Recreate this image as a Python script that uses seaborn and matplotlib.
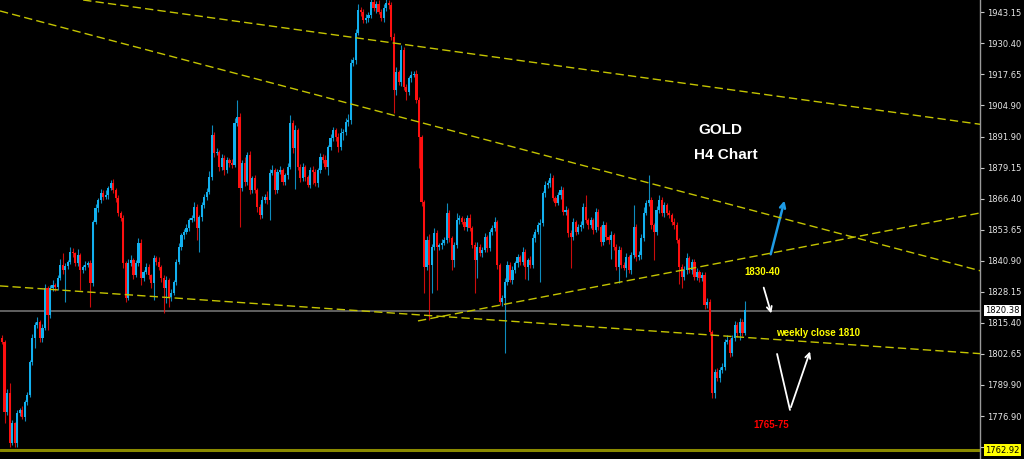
import matplotlib
matplotlib.use('Agg')
import matplotlib.pyplot as plt
import seaborn as sns
import numpy as np
import pandas as pd

# H4 closes (open of each bar = previous close)
first_open = 1809.1
closes = [
    1807.4, 1778.6, 1786.5, 1765.9, 1774.1, 1765.9, 1778.2, 1779.5, 1776.6, 1782.8,
    1785.6, 1799.2, 1809.1, 1814.4, 1815.7, 1809.1, 1813.2, 1829.6, 1818.5, 1829.6,
    1830.9, 1830.1, 1833.8, 1839.1, 1837.0, 1838.7, 1840.3, 1844.5, 1844.0, 1839.9,
    1843.2, 1837.0, 1838.3, 1839.1, 1839.9, 1831.7, 1856.8, 1862.5, 1865.8, 1868.7,
    1867.1, 1867.9, 1870.8, 1872.8, 1870.0, 1866.7, 1860.5, 1858.4, 1839.9, 1825.5,
    1839.9, 1841.2, 1835.0, 1839.9, 1848.2, 1833.8, 1836.2, 1838.3, 1835.0, 1831.7,
    1842.0, 1840.3, 1838.3, 1833.8, 1829.6, 1832.9, 1825.9, 1827.6, 1832.1, 1840.3,
    1846.5, 1851.4, 1852.7, 1854.3, 1857.6, 1858.4, 1863.0, 1854.3, 1858.8, 1863.8,
    1867.1, 1869.1, 1875.3, 1892.6, 1885.2, 1885.6, 1879.4, 1883.1, 1878.2, 1882.3,
    1881.1, 1880.2, 1897.5, 1900.0, 1870.8, 1881.1, 1873.2, 1884.4, 1870.0, 1874.9,
    1870.0, 1863.0, 1859.7, 1865.8, 1867.1, 1865.8, 1877.0, 1878.2, 1870.0, 1877.4,
    1878.2, 1873.2, 1876.1, 1879.4, 1897.5, 1887.2, 1894.6, 1879.4, 1874.9, 1879.4,
    1875.3, 1872.0, 1878.2, 1877.4, 1872.8, 1878.2, 1883.5, 1882.3, 1879.4, 1887.6,
    1891.3, 1894.6, 1891.8, 1887.6, 1893.4, 1893.8, 1897.9, 1898.7, 1922.2, 1923.4,
    1934.5, 1944.0, 1943.2, 1939.9, 1940.7, 1941.9, 1947.3, 1944.8, 1946.5, 1943.2,
    1940.7, 1944.8, 1946.9, 1946.0, 1932.9, 1911.1, 1918.5, 1914.4, 1927.5, 1912.3,
    1910.3, 1916.0, 1917.3, 1917.7, 1907.0, 1891.8, 1865.0, 1838.3, 1849.4, 1839.1,
    1846.5, 1852.3, 1846.5, 1847.3, 1848.2, 1849.4, 1860.5, 1850.2, 1841.2, 1847.3,
    1857.6, 1858.4, 1856.8, 1854.7, 1858.4, 1854.3, 1847.3, 1841.2, 1846.5, 1844.0,
    1845.3, 1850.6, 1846.1, 1852.7, 1854.3, 1856.8, 1839.1, 1823.9, 1825.5, 1832.1,
    1839.1, 1832.9, 1837.0, 1839.9, 1842.4, 1840.3, 1844.5, 1838.3, 1841.2, 1839.1,
    1850.2, 1852.7, 1855.6, 1856.4, 1868.7, 1872.0, 1872.8, 1874.9, 1866.7, 1864.6,
    1867.9, 1870.0, 1860.9, 1861.7, 1852.3, 1850.6, 1856.8, 1852.7, 1854.7, 1855.6,
    1863.0, 1857.6, 1855.6, 1857.6, 1853.5, 1860.9, 1854.7, 1848.6, 1855.6, 1850.6,
    1849.4, 1851.4, 1846.5, 1838.3, 1845.3, 1839.1, 1837.9, 1842.4, 1837.0, 1843.2,
    1854.7, 1842.4, 1843.2, 1850.2, 1860.5, 1864.6, 1865.8, 1855.6, 1852.7, 1861.7,
    1865.8, 1860.5, 1863.8, 1860.5, 1859.7, 1856.8, 1855.6, 1849.4, 1838.3, 1834.2,
    1837.0, 1842.0, 1837.0, 1840.3, 1834.2, 1836.2, 1833.8, 1835.0, 1822.7, 1823.9,
    1811.5, 1786.5, 1795.1, 1792.6, 1795.9, 1797.2, 1807.4, 1808.3, 1802.9, 1809.1,
    1814.4, 1811.1, 1815.7, 1811.1, 1820.4,
]
# wick lengths above / below the body (price units)
wick_up = [
    1.0, 0.8, 1.5, 4.1, 1.2, 0.6, 1.4, 0.9, 1.8, 0.7,
    1.1, 0.9, 1.6, 1.3, 2.2, 0.8, 1.5, 1.7, 0.9, 1.2,
    2.0, 0.7, 1.3, 2.6, 4.9, 1.1, 0.8, 1.9, 1.4, 0.6,
    2.3, 1.0, 0.9, 1.5, 0.7, 1.2, 1.0, 1.8, 0.9, 1.6,
    1.1, 2.0, 0.8, 1.4, 1.7, 0.6, 1.2, 0.9, 1.3, 0.7,
    1.5, 1.9, 0.8, 1.2, 2.0, 1.4, 0.9, 1.7, 1.1, 0.6,
    1.3, 1.0, 2.1, 0.8, 1.2, 1.5, 0.7, 1.6, 1.0, 1.3,
    1.8, 0.9, 1.2, 1.5, 0.8, 1.4, 2.2, 1.0, 0.7, 1.3,
    1.1, 1.6, 2.4, 4.1, 1.2, 1.8, 0.9, 1.5, 1.1, 1.3,
    0.8, 1.4, 2.0, 7.0, 1.5, 1.2, 2.3, 1.0, 1.6, 0.9,
    1.3, 0.7, 1.1, 1.8, 1.0, 2.6, 1.4, 1.9, 0.8, 1.2,
    1.5, 1.0, 0.9, 1.7, 3.3, 1.2, 2.1, 0.8, 1.4, 1.6,
    1.0, 0.7, 1.3, 1.8, 1.1, 0.9, 1.5, 1.2, 2.0, 1.0,
    1.6, 1.3, 0.8, 1.4, 1.9, 1.1, 1.5, 2.4, 1.5, 1.2,
    1.8, 2.5, 1.4, 1.0, 1.7, 1.2, 2.0, 1.5, 1.1, 1.6,
    1.3, 1.8, 3.0, 1.2, 1.2, 1.6, 2.2, 1.0, 1.9, 1.3,
    1.4, 0.9, 1.7, 1.2, 1.5, 1.1, 0.8, 1.0, 1.6, 2.5,
    1.3, 1.9, 1.2, 0.8, 1.5, 1.1, 4.1, 1.4, 0.9, 1.2,
    3.0, 1.3, 1.0, 1.8, 1.2, 1.5, 0.8, 1.1, 2.0, 1.3,
    1.0, 1.7, 0.9, 1.4, 1.2, 2.2, 1.0, 0.7, 1.3, 1.8,
    1.5, 1.1, 1.6, 0.9, 1.3, 1.0, 1.9, 1.2, 0.8, 1.4,
    1.7, 1.1, 1.3, 1.5, 1.0, 1.8, 1.2, 2.0, 1.1, 0.9,
    1.4, 1.6, 1.0, 1.8, 0.8, 1.2, 1.5, 1.0, 1.3, 1.7,
    1.6, 4.9, 1.0, 1.3, 0.9, 1.8, 1.2, 0.8, 1.4, 1.1,
    1.0, 1.5, 0.9, 1.2, 1.7, 1.0, 1.3, 1.6, 0.8, 1.4,
    9.0, 1.2, 1.5, 1.8, 2.4, 1.3, 10.3, 1.1, 0.9, 1.6,
    2.0, 1.2, 1.4, 1.0, 1.3, 0.9, 1.5, 1.1, 0.8, 1.2,
    1.6, 1.9, 1.0, 1.4, 1.2, 1.5, 0.9, 1.3, 1.1, 1.7,
    1.2, 1.0, 1.4, 1.8, 1.1, 1.5, 1.3, 2.0, 0.9, 1.4,
    1.6, 1.1, 1.8, 1.2, 3.7,
]
wick_dn = [
    0.8, 4.5, 1.2, 1.6, 1.0, 1.6, 1.6, 1.3, 0.9, 1.5,
    1.2, 0.8, 1.4, 4.0, 1.1, 1.7, 1.6, 0.9, 6.2, 1.3,
    1.0, 1.8, 1.2, 0.7, 1.5, 13.0, 1.1, 0.9, 1.6, 1.2,
    1.4, 8.2, 1.0, 1.3, 0.8, 9.9, 1.2, 0.9, 1.5, 1.1,
    1.3, 0.7, 1.6, 1.0, 1.2, 1.8, 1.1, 1.4, 2.0, 1.5,
    1.0, 1.3, 1.7, 0.9, 1.4, 3.0, 1.2, 1.0, 1.6, 2.2,
    7.0, 1.1, 1.4, 1.8, 10.3, 6.2, 4.0, 1.5, 1.0, 1.3,
    0.9, 1.2, 1.6, 1.0, 1.4, 0.8, 1.3, 5.0, 9.9, 1.5,
    1.1, 1.4, 0.9, 1.2, 1.7, 1.0, 1.5, 1.3, 2.0, 1.1,
    1.6, 1.2, 0.9, 1.4, 16.0, 1.3, 1.8, 1.0, 1.5, 1.2,
    1.4, 2.0, 1.6, 1.1, 1.3, 1.7, 8.2, 1.0, 1.5, 1.2,
    0.9, 1.4, 1.1, 1.6, 1.0, 2.2, 17.0, 1.3, 1.8, 1.2,
    1.5, 1.0, 1.4, 5.0, 1.2, 1.7, 1.1, 1.3, 0.9, 3.3,
    1.2, 1.0, 1.5, 2.0, 1.3, 3.0, 1.1, 1.6, 1.4, 1.2,
    1.5, 1.0, 1.8, 1.3, 1.1, 1.6, 1.2, 1.4, 2.0, 1.0,
    1.3, 1.5, 1.1, 1.7, 1.2, 9.5, 2.0, 1.4, 1.6, 1.3,
    3.3, 1.2, 1.5, 1.0, 1.4, 12.7, 1.8, 10.7, 1.3, 22.6,
    11.5, 1.4, 17.7, 1.2, 1.6, 1.0, 1.3, 1.5, 4.0, 2.9,
    1.2, 1.6, 1.0, 1.4, 1.8, 1.1, 1.3, 13.6, 7.4, 1.2,
    1.5, 1.0, 1.7, 1.3, 1.1, 1.4, 1.6, 1.2, 1.8, 22.6,
    1.4, 1.0, 1.5, 1.2, 1.7, 1.3, 1.1, 5.0, 5.3, 1.4,
    1.2, 1.6, 1.0, 23.4, 1.3, 1.5, 1.1, 1.8, 1.2, 1.4,
    1.0, 1.6, 1.3, 1.1, 1.5, 12.7, 1.2, 1.4, 1.0, 1.7,
    1.3, 1.1, 1.5, 1.2, 1.6, 1.0, 1.4, 1.8, 1.1, 1.3,
    1.5, 8.0, 1.2, 1.2, 6.6, 1.4, 1.0, 3.7, 1.3, 1.6,
    1.2, 1.5, 1.1, 1.7, 1.3, 1.0, 1.4, 1.6, 11.5, 1.2,
    1.3, 1.1, 1.5, 1.0, 1.4, 1.2, 1.7, 1.3, 7.0, 4.5,
    1.2, 1.4, 1.0, 1.6, 1.3, 1.1, 1.5, 1.2, 1.8, 1.4,
    1.3, 2.0, 2.0, 1.2, 1.5, 1.1, 1.4, 1.0, 1.6, 1.3,
    1.2, 1.5, 3.0, 1.1, 1.0,
]

price_ticks = [1943.15, 1930.40, 1917.65, 1904.90, 1891.90, 1879.15, 1866.40,
               1853.65, 1840.90, 1828.15, 1815.40, 1802.65, 1789.90, 1776.90, 1764.15]
last_price = 1820.38
support_price = 1762.92

# trend lines: (bar0, price0, bar1, price1)
trend_lines = [
    (32.1, 1948.1, 389.0, 1896.7),
    (-0.8, 1943.6, 389.0, 1836.2),
    (-0.8, 1830.5, 389.0, 1802.5),
    (164.6, 1816.1, 389.0, 1860.9),
]

df = pd.DataFrame({'close': closes, 'up': wick_up, 'dn': wick_dn})
df['bar'] = np.arange(len(df))
df['open'] = [first_open] + closes[:-1]
df['top'] = df[['open', 'close']].max(axis=1)
df['bot'] = df[['open', 'close']].min(axis=1)
df['high'] = df['top'] + df['up']
df['low'] = df['bot'] - df['dn']
bull = df['close'] >= df['open']
BLUE, RED = '#12b0ef', '#ff1010'
df['color'] = np.where(bull, BLUE, RED)

sns.set_style('dark', {'axes.facecolor': 'black', 'figure.facecolor': 'black'})
plt.rcParams['font.family'] = ['DejaVu Sans']

fig = plt.figure(figsize=(10.24, 4.59), dpi=100)
ax = fig.add_axes([0, 0, 980 / 1024, 1])
ax.set_facecolor('black')

# candles
ax.vlines(df['bar'], df['low'], df['high'], colors=df['color'], lw=0.8, alpha=0.8, zorder=3)
ax.bar(df['bar'], df['top'] - df['bot'], bottom=df['bot'], width=0.85,
       color=df['color'], linewidth=0, zorder=4)

# horizontal lines
ax.axhline(last_price, color='#606060', lw=1.4, zorder=2)
ax.axhline(support_price, color='#8a8a00', lw=2.2, zorder=2)

# trend lines
for b0, p0, b1, p1 in trend_lines:
    sns.lineplot(x=[b0, b1], y=[p0, p1], ax=ax, color='#c4c400', lw=1.0,
                 linestyle=(0, (6, 3)), zorder=5)

ax.set_xlim(-0.8, 387)
ax.set_ylim(1759.3, 1948.1)
ax.set_xlabel('')
ax.set_ylabel('')
ax.set_xticks([])

ax.yaxis.tick_right()
ax.set_yticks(price_ticks)
ax.set_yticklabels([f'{t:.2f}' for t in price_ticks])
ax.tick_params(axis='y', colors='#c8c8c8', labelcolor='#e6e6e6', labelsize=6.0,
               length=3, width=0.8, pad=2, right=True, left=False)
for s in ['left', 'top', 'bottom']:
    ax.spines[s].set_visible(False)
ax.spines['right'].set_color('#9a9a9a')
ax.spines['right'].set_linewidth(1.0)
ax.grid(False)

# price boxes on the axis
ytr = ax.get_yaxis_transform()
ax.text(1.005, last_price, f'{last_price:.2f}', transform=ytr, fontsize=6.0,
        color='black', va='center', ha='left', clip_on=False, zorder=10,
        bbox=dict(boxstyle='square,pad=0.15', fc='white', ec='none'))
ax.text(1.005, support_price, f'{support_price:.2f}', transform=ytr, fontsize=6.0,
        color='black', va='center', ha='left', clip_on=False, zorder=10,
        bbox=dict(boxstyle='square,pad=0.15', fc='#ffff00', ec='none'))

# titles and notes
bold = dict(family=['Liberation Sans', 'DejaVu Sans'], fontweight='bold')
ax.text(284.1, 1894.6, 'GOLD', color='white', fontsize=11, ha='center', va='center', **bold)
ax.text(286.5, 1884.3, 'H4 Chart', color='white', fontsize=11, ha='center', va='center', **bold)
ax.text(300.7, 1836.2, '1830-40', color='#ffff00', fontsize=7, ha='center', va='center', **bold)
ax.text(322.9, 1811.1, 'weekly close 1810', color='#ffff00', fontsize=7, ha='center', va='center', **bold)
ax.text(304.3, 1773.3, '1765-75', color='#ff0000', fontsize=7, ha='center', va='center', **bold)

# arrows
ax.annotate('', xy=(309.9, 1866.7), xytext=(303.9, 1842.4),
            arrowprops=dict(arrowstyle='->', color='#1e9be6', lw=1.8, mutation_scale=9))
ax.annotate('', xy=(304.7, 1818.1), xytext=(301.1, 1830.9),
            arrowprops=dict(arrowstyle='->', color='white', lw=1.3, mutation_scale=9))
ax.plot([306.7, 311.8], [1802.5, 1779.5], color='white', lw=1.3)
ax.annotate('', xy=(320.1, 1804.6), xytext=(311.8, 1779.5),
            arrowprops=dict(arrowstyle='->', color='white', lw=1.3, mutation_scale=9))

fig.savefig('out.png', dpi=100, facecolor='black')
